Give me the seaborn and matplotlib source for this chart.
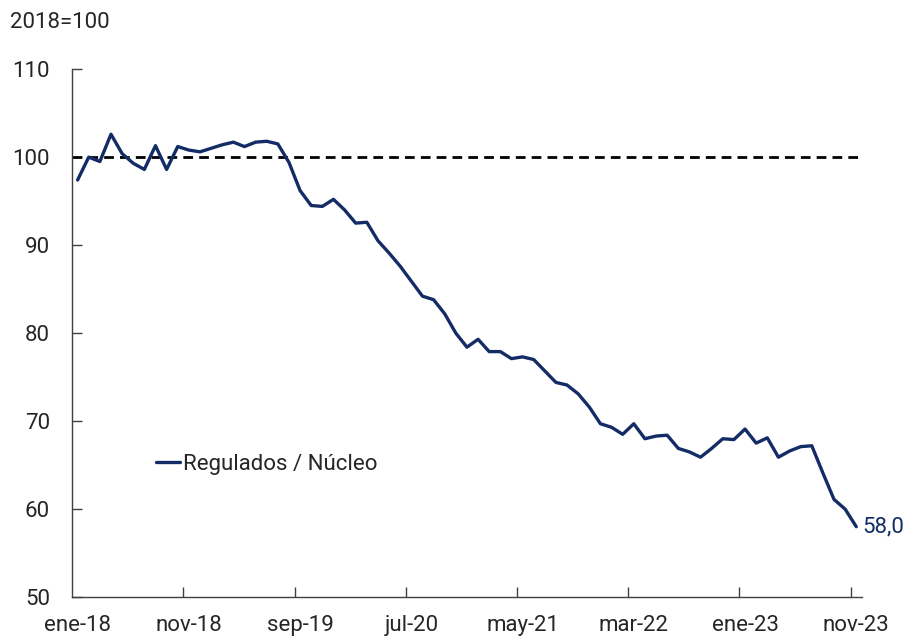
import matplotlib
matplotlib.use("Agg")
import matplotlib.pyplot as plt
import numpy as np
import pandas as pd
import seaborn as sns

# monthly index, ene-18 .. nov-23 (2018=100)
values = [97.4, 100.0, 99.5, 102.6, 100.4, 99.3, 98.6, 101.3, 98.6, 101.2,
          100.8, 100.6, 101.0, 101.4, 101.7, 101.2, 101.7, 101.8, 101.5, 99.4,
          96.2, 94.5, 94.4, 95.2, 94.0, 92.5, 92.6, 90.5, 89.1, 87.6,
          85.9, 84.2, 83.8, 82.2, 80.0, 78.4, 79.3, 77.9, 77.9, 77.1,
          77.3, 77.0, 75.7, 74.4, 74.1, 73.1, 71.6, 69.7, 69.3, 68.5,
          69.7, 68.0, 68.3, 68.4, 66.9, 66.5, 65.9, 66.9, 68.0, 67.9,
          69.1, 67.5, 68.1, 65.9, 66.6, 67.1, 67.2, 64.1, 61.1, 60.0,
          58.0]
tick_labels = ["ene-18", "nov-18", "sep-19", "jul-20", "may-21", "mar-22", "ene-23", "nov-23"]
series_name = "Regulados / Núcleo"
base_level = 100

df = pd.DataFrame({"mes": np.arange(len(values)), "valor": values, "serie": series_name})

sns.set_style("white")
plt.rcParams["font.family"] = ["Roboto", "DejaVu Sans"]

navy = "#142c66"
fs = 16
fig, ax = plt.subplots(figsize=(9.12, 6.4), dpi=100)
fig.subplots_adjust(left=0.079, right=0.945, bottom=0.067, top=0.892)

ax.axhline(base_level, color="black", lw=2.0, ls=(0, (3.5, 2.2)), zorder=1)
sns.lineplot(data=df, x="mes", y="valor", hue="serie", palette=[navy], lw=2.4, ax=ax, zorder=2)

ax.set_xlim(-0.5, len(values) - 0.5)
ax.set_ylim(50, 110)
ax.set_yticks(np.arange(50, 111, 10))
ax.set_xticks(np.arange(0, len(values), 10))
ax.set_xticklabels(tick_labels)
ax.set_xticks(np.arange(9.5, len(values), 10), minor=True)
ax.set_xlabel("")
ax.set_ylabel("")

ax.tick_params(axis="x", which="major", length=0, pad=13, labelsize=fs)
ax.tick_params(axis="x", which="minor", length=7, direction="in", width=1, color="#404040", bottom=True)
ax.tick_params(axis="y", length=7, direction="in", width=1, color="#404040", pad=16, labelsize=fs, left=True)

for side in ["top", "right"]:
    ax.spines[side].set_visible(False)
for side in ["left", "bottom"]:
    ax.spines[side].set_color("#404040")
    ax.spines[side].set_linewidth(1)

ax.legend(loc="center left", bbox_to_anchor=(0.081, 0.252), frameon=False,
          fontsize=fs, handlelength=1.1, handletextpad=0.12)

ax.annotate(f"{values[-1]:.1f}".replace(".", ","), xy=(len(values) - 1, values[-1]),
            xytext=(4, 0), textcoords="offset points", va="center", ha="left",
            color=navy, fontsize=fs, annotation_clip=False)

fig.text(0.011, 1 - 22 / 640, "2018=100", fontsize=fs, va="center", ha="left")

plt.savefig("out.png", dpi=100)
